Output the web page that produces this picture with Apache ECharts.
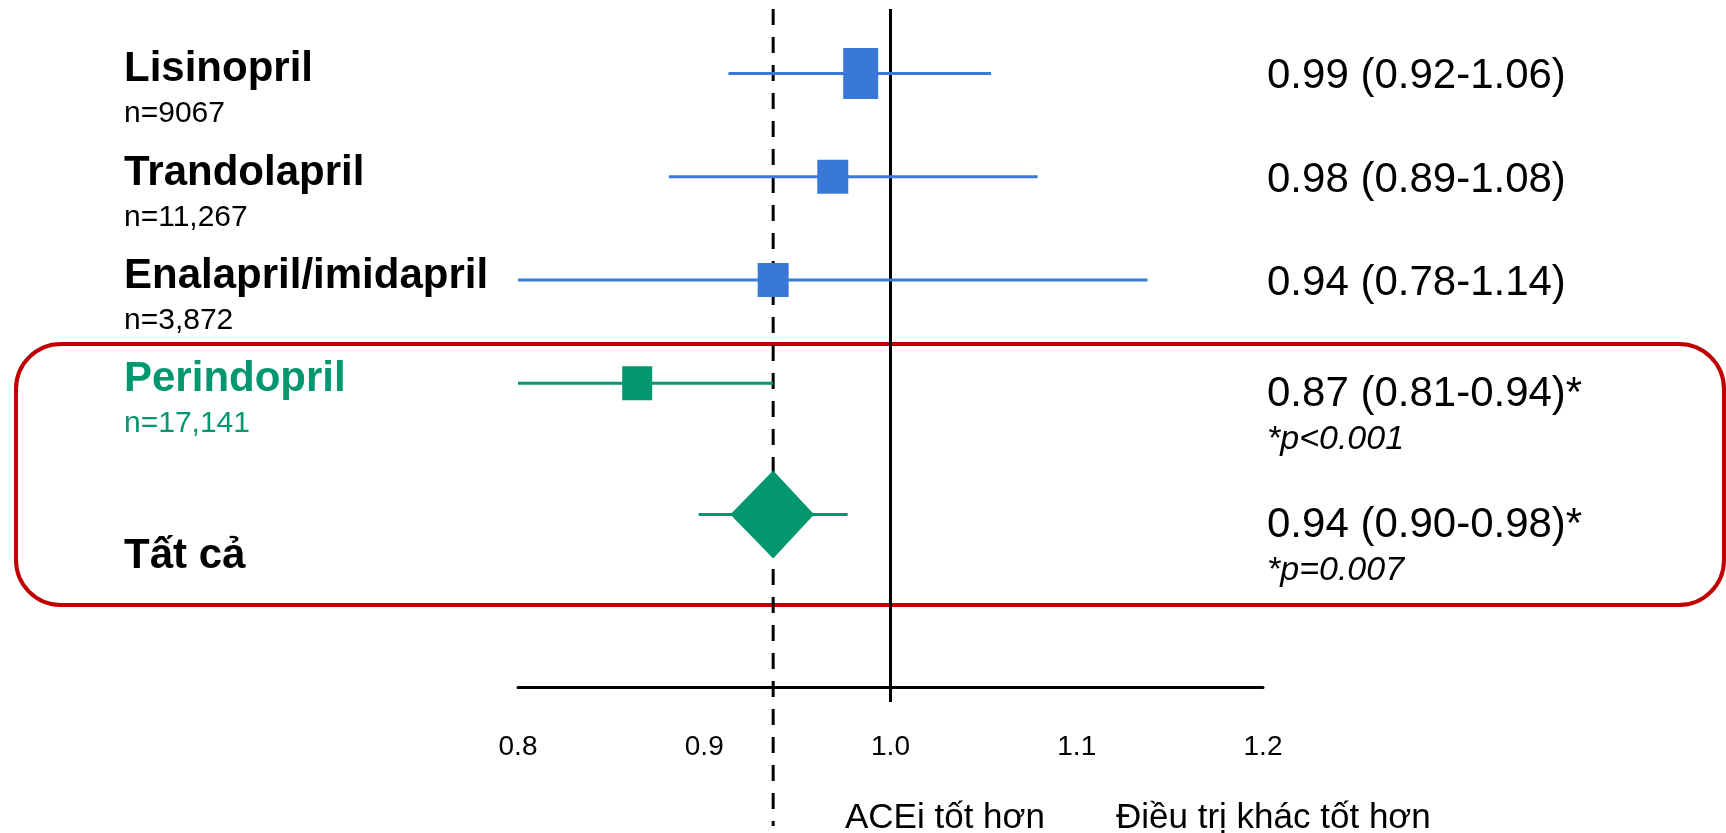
<!DOCTYPE html>
<html>
<head>
<meta charset="utf-8">
<script src="https://cdn.jsdelivr.net/npm/echarts@6/dist/echarts.min.js"></script>
<style>
html, body { margin: 0; padding: 0; background: #fff; }
#chart { width: 1726px; height: 833px; }
</style>
</head>
<body>
<div id="chart"></div>
<script>
// data
var drugNames = ['Lisinopril', 'Trandolapril', 'Enalapril/imidapril', 'Perindopril', 'Tất cả'];
var drugN = ['n=9067', 'n=11,267', 'n=3,872', 'n=17,141', ''];
var rowPos = [1, 2, 3, 4, 5.27];
var estimate = [0.984, 0.969, 0.937, 0.864, 0.937];
var ciLow = [0.913, 0.881, 0.80, 0.80, 0.897];
var ciHigh = [1.054, 1.079, 1.138, 0.937, 0.977];
var diamondLow = 0.914;
var diamondHigh = 0.959;
var resultText = ['0.99 (0.92-1.06)', '0.98 (0.89-1.08)', '0.94 (0.78-1.14)', '0.87 (0.81-0.94)*', '0.94 (0.90-0.98)*'];
var pText = ['', '', '', '*p<0.001', '*p=0.007'];
var refLines = [1.0, 0.937];
var sideLabels = ['ACEi tốt hơn', 'Điều trị khác tốt hơn'];

// styles
var blue = '#3a78d8';
var green = '#03976f';
var red = '#c00000';
var font = '"Liberation Sans", Arial, sans-serif';
var boxSize = [[35, 51], [31, 34], [31, 34], [30, 34]];

(function () {
    var myChart = echarts.init(document.getElementById('chart'));

    var rows = drugNames.map(function (name, i) {
        return [ciLow[i], ciHigh[i], estimate[i], rowPos[i]];
    });

    function rowColor(i) {
        return i < 3 ? blue : green;
    }

    function renderRow(params, api) {
        var i = params.dataIndex;
        var y = api.value(3);
        var lo = api.coord([api.value(0), y]);
        var hi = api.coord([api.value(1), y]);
        var mid = api.coord([api.value(2), y]);
        var color = rowColor(i);
        var children = [{
            type: 'line',
            shape: { x1: lo[0], y1: lo[1], x2: hi[0], y2: hi[1] },
            style: { stroke: color, lineWidth: 3 }
        }];
        if (drugN[i] === '') {
            var dl = api.coord([diamondLow, y]);
            var dh = api.coord([diamondHigh, y]);
            children.push({
                type: 'polygon',
                shape: { points: [[dl[0], mid[1]], [mid[0], mid[1] - 44], [dh[0], mid[1]], [mid[0], mid[1] + 44]] },
                style: { fill: color }
            });
        } else {
            var s = boxSize[i];
            children.push({
                type: 'rect',
                shape: { x: mid[0] - s[0] / 2, y: mid[1] - s[1] / 2, width: s[0], height: s[1] },
                style: { fill: color }
            });
        }
        return { type: 'group', children: children };
    }

    // text is placed by baseline: middle = baseline - 0.35 * size
    function txt(str, x, baseline, size, opts) {
        opts = opts || {};
        return {
            type: 'text',
            style: {
                text: str,
                x: x,
                y: baseline - 0.35 * size,
                font: (opts.italic ? 'italic ' : '') + (opts.bold ? 'bold ' : '') + size + 'px ' + font,
                fill: opts.color || '#000',
                align: 'left',
                verticalAlign: 'middle'
            }
        };
    }

    function renderText(params, api) {
        var i = params.dataIndex;
        var c = api.coord([0.8, api.value(3)]);
        var y = c[1];
        var color = i >= 3 && drugN[i] !== '' ? green : '#000';
        var children = [];
        if (drugN[i] !== '') {
            children.push(txt(drugNames[i], 124, y + 11, 42, { bold: true, color: color }));
            children.push(txt(drugN[i], 124, y + 51, 30, { color: color }));
        } else {
            children.push(txt(drugNames[i], 124, y + 57, 42, { bold: true }));
        }
        if (pText[i] !== '') {
            children.push(txt(resultText[i], 1267, y + 26, 42));
            children.push(txt(pText[i], 1267, y + 68, 34, { italic: true }));
        } else {
            children.push(txt(resultText[i], 1267, y + 18, 42));
        }
        return { type: 'group', children: children };
    }

    function renderRef(params, api) {
        var v = api.value(0);
        var yAxisMin = 0.375, yAxisMax = 6.94;
        var top = api.coord([v, yAxisMin]);
        var bottom = api.coord([v, yAxisMax]);
        var dashed = params.dataIndex === 1;
        return {
            type: 'line',
            shape: { x1: top[0], y1: top[1], x2: bottom[0], y2: bottom[1] + (dashed ? 139 : 15) },
            style: { stroke: '#000', lineWidth: 3, lineDash: dashed ? [16, 12] : null }
        };
    }

    var option = {
        animation: false,
        grid: { left: 518, right: 463, top: 9, bottom: 146 },
        xAxis: {
            type: 'value',
            min: 0.8,
            max: 1.2,
            interval: 0.1,
            axisLine: { show: true, lineStyle: { color: '#000', width: 3 } },
            axisTick: { show: false },
            splitLine: { show: false },
            axisLabel: {
                margin: 46,
                fontSize: 28,
                fontFamily: font,
                color: '#000',
                formatter: function (v) { return v.toFixed(1); }
            }
        },
        yAxis: {
            type: 'value',
            inverse: true,
            min: 0.375,
            max: 6.94,
            show: false
        },
        graphic: [
            {
                type: 'rect',
                shape: { x: 16, y: 344, width: 1708, height: 261, r: 45 },
                style: { fill: 'none', stroke: red, lineWidth: 4 },
                z: 1
            },
            {
                type: 'text',
                style: { text: sideLabels[0], x: 845, y: 818, font: '35px ' + font, fill: '#000', verticalAlign: 'middle' }
            },
            {
                type: 'text',
                style: { text: sideLabels[1], x: 1116, y: 818, font: '35px ' + font, fill: '#000', verticalAlign: 'middle' }
            }
        ],
        series: [
            {
                type: 'custom',
                renderItem: renderRef,
                data: refLines.map(function (v) { return [v]; }),
                z: 2
            },
            {
                type: 'custom',
                renderItem: renderRow,
                data: rows,
                z: 3
            },
            {
                type: 'custom',
                renderItem: renderText,
                data: rows,
                z: 4
            }
        ]
    };

    myChart.setOption(option);
})();
</script>
</body>
</html>
